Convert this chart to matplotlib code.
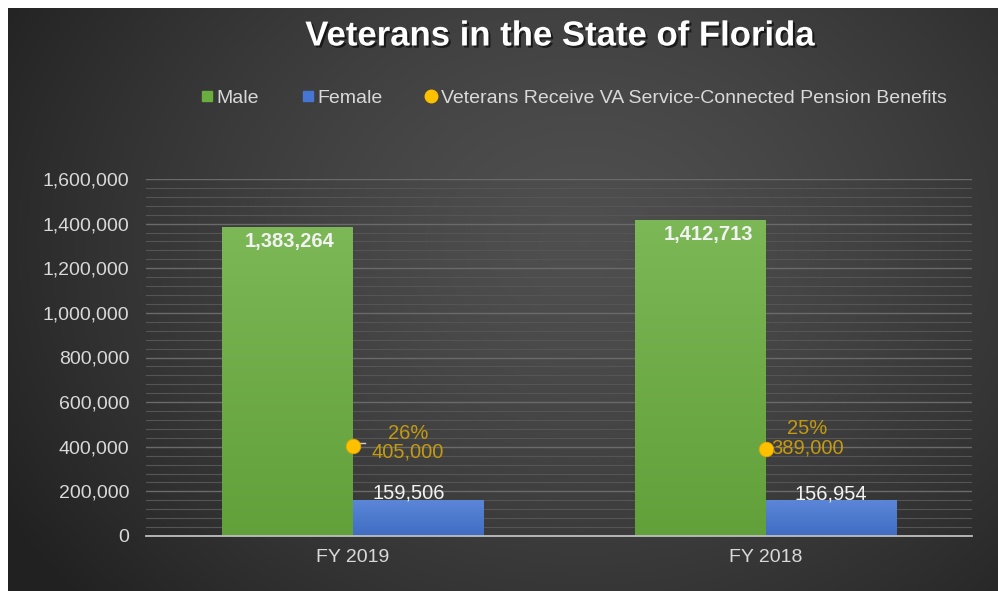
#!/usr/bin/env python3

import numpy as np
import matplotlib
matplotlib.use('Agg')
import matplotlib.pyplot as plt
import matplotlib.patheffects as pe
from matplotlib.lines import Line2D
from matplotlib.ticker import FuncFormatter, MultipleLocator


years = ['FY 2019', 'FY 2018']
male = [1383264, 1412713]
female = [159506, 156954]
pension = [405000, 389000]
pension_pct = ['26%', '25%']

GREEN = '#6aae3f'
BLUE = '#4576d3'
GOLD = '#ffc000'
GOLD_TXT = '#c49a10'
TXT = '#d9d9d9'

plt.rcParams['font.family'] = ['Liberation Sans', 'DejaVu Sans']


def shade(hexcol, f):
  c = np.array(matplotlib.colors.to_rgb(hexcol))
  if f > 0:
    return c + (1 - c) * f
  return c * (1 + f)


def grad_bar(ax, rect, col):
  # vertical gradient clipped to the bar
  x0, y0 = rect.get_x(), rect.get_y()
  w, h = rect.get_width(), rect.get_height()
  top = shade(col, 0.12)
  bot = shade(col, -0.08)
  t = np.linspace(0, 1, 64)[:, None]
  img = top[None, :] * (1 - t[..., None]) + bot[None, :] * t[..., None]
  img = np.repeat(img, 2, axis=1)
  ax.imshow(img, extent=[x0, x0 + w, y0, y0 + h], aspect='auto',
            origin='upper', zorder=2, interpolation='bilinear')
  rect.set_alpha(0)


def main():
  fig = plt.figure(figsize=(9.98, 5.91), dpi=100)
  fig.patch.set_facecolor('white')

  # dark radial background
  bg = fig.add_axes([8/998, 0, 990/998, 583/591])
  yy, xx = np.mgrid[0:300, 0:500]
  cx, cy = 290, 120
  r = np.sqrt(((xx - cx) / 340.0)**2 + ((yy - cy) / 280.0)**2)
  r = np.clip(r, 0, 1)
  c_in, c_out = 0.31, 0.13
  val = c_in + (c_out - c_in) * r**1.4
  bg.imshow(np.dstack([val, val, val]), aspect='auto', interpolation='bilinear')
  bg.set_axis_off()

  ax = fig.add_axes([146/998, 1 - 536/591, 826/998, 357/591])
  ax.patch.set_alpha(0)

  x = np.arange(len(years))
  w = 0.316
  bm = ax.bar(x - w/2, male, w, color=GREEN, zorder=2)
  bf = ax.bar(x + w/2, female, w, color=BLUE, zorder=2)
  for r_ in bm:
    grad_bar(ax, r_, GREEN)
  for r_ in bf:
    grad_bar(ax, r_, BLUE)

  ax.scatter(x, pension, s=110, color=GOLD, edgecolor='#e0a800', linewidth=0.6, zorder=5)

  ax.set_xlim(-0.5, 1.5)
  ax.set_ylim(0, 1600000)

  ax.yaxis.set_major_locator(MultipleLocator(200000))
  ax.yaxis.set_minor_locator(MultipleLocator(40000))
  ax.yaxis.set_major_formatter(FuncFormatter(lambda v, p: '{:,.0f}'.format(v)))
  ax.grid(which='major', axis='y', color='#6a6a6a', lw=1.0, zorder=0)
  ax.grid(which='minor', axis='y', color='#555555', lw=0.8, zorder=0)
  ax.set_axisbelow(True)

  for s in ['top', 'right', 'left']:
    ax.spines[s].set_visible(False)
  ax.spines['bottom'].set_color('#bfbfbf')
  ax.spines['bottom'].set_linewidth(1.3)
  ax.spines['bottom'].set_zorder(4)

  ax.set_xticks(x)
  ax.set_xticklabels(years)
  ax.tick_params(axis='both', which='both', length=0, colors=TXT, labelsize=14)
  ax.tick_params(axis='y', pad=12)
  ax.tick_params(axis='x', pad=9)

  # value labels (small nudges as in the source chart)
  male_dx = [2, 6]
  fem_dx = [-6.5, 0]
  for xi, v, dx in zip(x, male, male_dx):
    ax.annotate('{:,}'.format(v), (xi - w/2, v), xytext=(dx, -10), textcoords='offset points',
                ha='center', va='center', color='#f2f2f2', fontsize=14.5, fontweight='bold', zorder=6)
  for xi, v, dx in zip(x, female, fem_dx):
    ax.annotate('{:,}'.format(v), (xi + w/2, v), xytext=(dx, 5), textcoords='offset points',
                ha='center', va='center', color='#f2f2f2', fontsize=14.5, zorder=6)

  offs = [(40, 2), (30, 8)]
  for xi, v, pc, o in zip(x, pension, pension_pct, offs):
    ax.annotate(pc + '\n' + '{:,}'.format(v), (xi, v), xytext=o, textcoords='offset points',
                ha='center', va='center', color=GOLD_TXT, fontsize=14.5, linespacing=1.0, zorder=6)
  ax.plot([x[0] + 0.012, x[0] + 0.03], [pension[0] + 12000, pension[0] + 12000],
          color='#d0d0d0', lw=1, zorder=4)

  fig.text(0.561, 1 - 36/591, 'Veterans in the State of Florida', ha='center', va='center',
           color='white', fontsize=25, fontweight='bold',
           path_effects=[pe.withSimplePatchShadow(offset=(1.5, -1.5), shadow_rgbFace='black', alpha=0.6)])

  handles = [
    Line2D([], [], marker='s', ls='none', color=GREEN, markersize=7),
    Line2D([], [], marker='s', ls='none', color=BLUE, markersize=7),
    Line2D([], [], marker='o', ls='none', color=GOLD, markersize=9),
  ]
  labels = ['Male', 'Female', 'Veterans Receive VA Service-Connected Pension Benefits']
  leg = fig.legend(handles, labels, loc='center', bbox_to_anchor=(0.573, 1 - 98/591), ncol=3,
                   frameon=False, fontsize=14, handletextpad=0.0, columnspacing=2.0,
                   handlelength=1.0)
  for t in leg.get_texts():
    t.set_color(TXT)

  fig.savefig('out.png', dpi=100, facecolor=fig.get_facecolor())


if __name__ == '__main__':
  main()
